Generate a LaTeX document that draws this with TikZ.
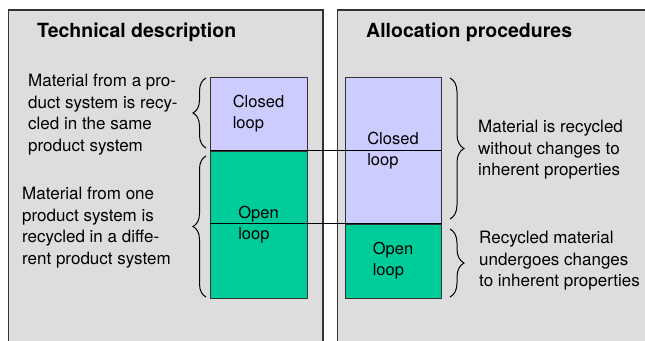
\documentclass[tikz,border=0pt]{standalone}
\usepackage{fontspec}
\setmainfont{TeX Gyre Heros}
\usetikzlibrary{decorations.pathreplacing}
\definecolor{panelgray}{HTML}{DDDDDD}
\definecolor{closedblue}{HTML}{CCCCFF}
\definecolor{opengreen}{HTML}{00CC99}
\definecolor{edgegray}{HTML}{333333}
\tikzset{
  panel/.style={draw=edgegray, line width=1.5pt, fill=panelgray},
  cell/.style={draw=edgegray, line width=1pt, inner sep=0pt, align=left,
    font=\fontsize{16.5}{21}\selectfont},
  closedcell/.style={cell, fill=closedblue},
  opencell/.style={cell, fill=opengreen},
  bodytext/.style={align=left, inner sep=0pt, anchor=west,
    font=\fontsize{17}{21.5}\selectfont},
  headtext/.style={inner sep=0pt, anchor=west,
    font=\fontsize{19.5}{23}\selectfont\bfseries},
  bracket/.style={decorate, decoration={brace, amplitude=#1}, line width=1pt},
  bracket/.default=13pt,
  divider/.style={line width=0.9pt, black},
}
\begin{document}
\begin{tikzpicture}[x=1pt, y=-1pt]
  \useasboundingbox (0,0) rectangle (645,340);
  %panels
  \draw[panel] (8.5,10) rectangle (323,360);
  \draw[panel] (337.5,10) rectangle (660,360);
  \node[headtext] (techhead) at (37,32) {Technical description};
  \node[headtext] (allochead) at (366,32) {Allocation procedures};

  %loop columns
  \node[closedcell, minimum width=97pt, minimum height=74pt] (closedL) at (258.5,114) {Closed\\loop};
  \node[opencell, minimum width=97pt, minimum height=147pt] (openL) at (258.5,224.5) {Open\\loop};
  \node[closedcell, minimum width=96pt, minimum height=147pt] (closedR) at (393,150.5) {Closed\\loop};
  \node[opencell, minimum width=96pt, minimum height=74pt] (openR) at (393,261) {Open\\loop};
  \draw[divider] (openL.north west) -- (openL.north west -| closedR.east);
  \draw[divider] (openL.west |- openR.north) -- (openR.north east);

  %descriptions
  \node[bodytext] (sametext) at (28,114.5) {Material from a pro-\\duct system is recy-\\cled in the same\\product system};
  \node[bodytext] (difftext) at (22,227.5) {Material from one\\product system is\\recycled in a diffe-\\rent product system};
  \node[bodytext] (keeptext) at (478,150) {Material is recycled\\without changes to\\inherent properties};
  \node[bodytext] (changetext) at (479,261) {Recycled material\\undergoes changes\\to inherent properties};

  %braces
  \draw[bracket] (206,148) -- (206,78);
  \draw[bracket] (206,297) -- (206,156);
  \draw[bracket=14pt] (450,78) -- (450,219);
  \draw[bracket=14pt] (450,229) -- (450,297);
\end{tikzpicture}
\end{document}
